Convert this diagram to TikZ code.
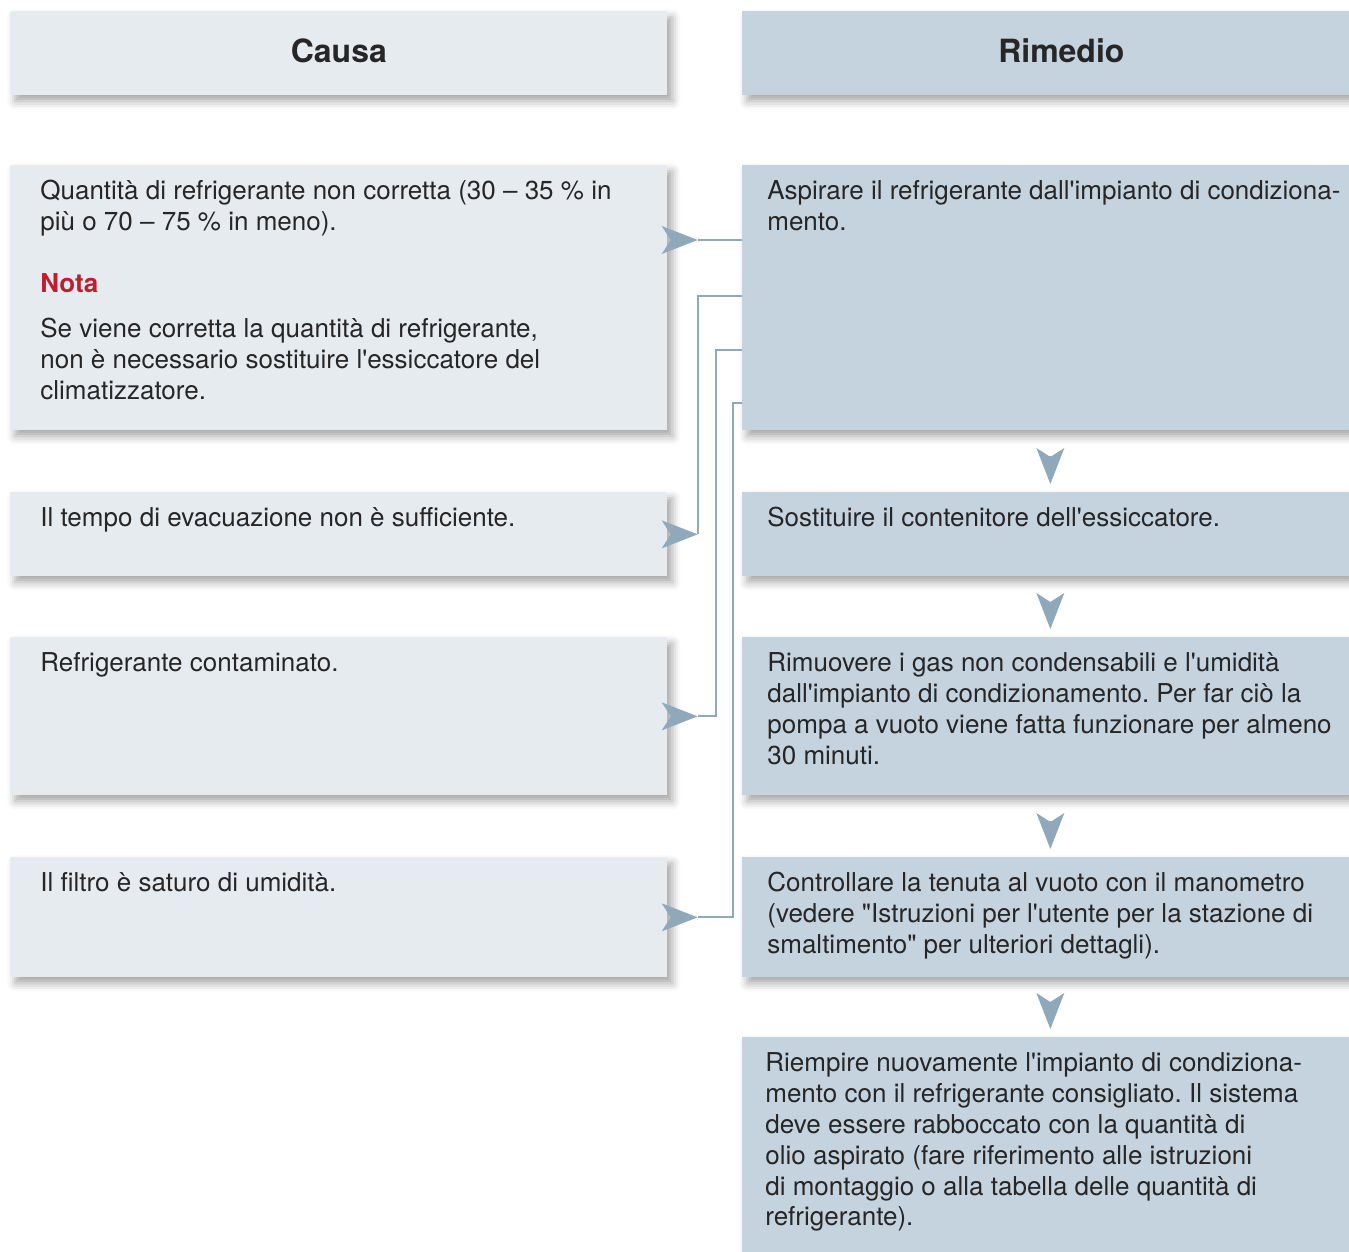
\documentclass[tikz,border=0pt]{standalone}
\usepackage{fontspec}
\setmainfont{TeX Gyre Heros}
\usetikzlibrary{arrows.meta, positioning, shadows.blur}
\definecolor{causefill}{RGB}{230,235,240}
\definecolor{remedyfill}{RGB}{197,211,223}
\definecolor{linkblue}{RGB}{143,168,186}
\definecolor{notared}{RGB}{190,30,45}
\definecolor{inkgray}{RGB}{38,38,38}
\newcommand\apo{\textquotesingle}
\newcommand\dq{\textquotedbl}
\frenchspacing

\begin{document}
\begin{tikzpicture}[font=\fontsize{14.8}{17.6}\selectfont, text=inkgray,
    panel/.style={rectangle, inner sep=0pt, anchor=north west, blur shadow={shadow xshift=0.1cm, shadow yshift=-0.12cm, shadow blur radius=0.16cm, shadow opacity=35}},
    cause/.style={panel, fill=causefill, minimum width=13.14cm},
    remedy/.style={panel, fill=remedyfill, minimum width=12.14cm},
    head/.style={font=\fontsize{18.2}{21}\selectfont\bfseries, text depth=0.1cm},
    boxtext/.style={anchor=north west, align=left, inner sep=0pt},
    link/.style={draw=linkblue, line width=0.04cm, -{Stealth[reversed, length=0.72cm, width=0.56cm, inset=0.18cm, line width=0pt]}},
    down/.style={draw=linkblue, line width=0.04cm, -{Stealth[length=0.72cm, width=0.56cm, inset=0.18cm, line width=0pt]}, shorten <=0.5cm, shorten >=0.16cm}]

\useasboundingbox (0,0) rectangle (26.98,-25.04);

% headings
\node[cause, minimum height=1.68cm, head] (causa) at (0.2,-0.22) {Causa};
\node[remedy, minimum width=12.76cm, minimum height=1.68cm, head] (rimedio) at (14.84,-0.22) {Rimedio};

% causes (left column)
\node[cause, minimum height=5.3cm] (c1) at (0.2,-3.3) {};
\node[cause, minimum height=1.68cm] (c2) at (0.2,-9.84) {};
\node[cause, minimum height=3.16cm] (c3) at (0.2,-12.74) {};
\node[cause, minimum height=2.4cm] (c4) at (0.2,-17.14) {};

% remedies (right column)
\node[remedy, minimum height=5.3cm] (r1) at (14.84,-3.3) {};
\node[remedy, minimum height=1.68cm] (r2) at (14.84,-9.84) {};
\node[remedy, minimum height=3.16cm] (r3) at (14.84,-12.74) {};
\node[remedy, minimum height=2.4cm] (r4) at (14.84,-17.14) {};
\node[remedy, minimum height=4.3cm] (r5) at (14.84,-20.74) {};

% texts
\node[boxtext] (c1t) at ([xshift=0.6cm, yshift=-0.3cm]c1.north west)
  {Quantità di refrigerante non corretta (30 – 35 \% in\\
   più o 70 – 75 \% in meno).\\[0.62cm]
   \textcolor{notared}{\bfseries Nota}\\[0.28cm]
   Se viene corretta la quantità di refrigerante,\\
   non è necessario sostituire l\apo essiccatore del\\
   climatizzatore.};
\node[boxtext] (c2t) at ([xshift=0.6cm, yshift=-0.3cm]c2.north west)
  {Il tempo di evacuazione non è sufficiente.};
\node[boxtext] (c3t) at ([xshift=0.6cm, yshift=-0.3cm]c3.north west)
  {Refrigerante contaminato.};
\node[boxtext] (c4t) at ([xshift=0.6cm, yshift=-0.3cm]c4.north west)
  {Il filtro è saturo di umidità.};

\node[boxtext] (r1t) at ([xshift=0.5cm, yshift=-0.3cm]r1.north west)
  {Aspirare il refrigerante dall\apo impianto di condiziona-\\
   mento.};
\node[boxtext] (r2t) at ([xshift=0.5cm, yshift=-0.3cm]r2.north west)
  {Sostituire il contenitore dell\apo essiccatore.};
\node[boxtext] (r3t) at ([xshift=0.5cm, yshift=-0.3cm]r3.north west)
  {Rimuovere i gas non condensabili e l\apo umidità\\
   dall\apo impianto di condizionamento. Per far ciò la\\
   pompa a vuoto viene fatta funzionare per almeno\\
   30 minuti.};
\node[boxtext] (r4t) at ([xshift=0.5cm, yshift=-0.3cm]r4.north west)
  {Controllare la tenuta al vuoto con il manometro\\
   (vedere \dq Istruzioni per l\apo utente per la stazione di\\
   smaltimento\dq{} per ulteriori dettagli).};
\node[boxtext] (r5t) at ([xshift=0.46cm, yshift=-0.3cm]r5.north west)
  {Riempire nuovamente l\apo impianto di condiziona-\\
   mento con il refrigerante consigliato. Il sistema\\
   deve essere rabboccato con la quantità di\\
   olio aspirato (fare riferimento alle istruzioni\\
   di montaggio o alla tabella delle quantità di\\
   refrigerante).};

% cause -> remedy links
\draw[link] ([yshift=-1.5cm]r1.north west) -- ([xshift=-0.12cm, yshift=-1.5cm]c1.north east);
\draw[link] ([yshift=-2.62cm]r1.north west) -| ([xshift=0.6cm]c2.east) -- ([xshift=-0.12cm]c2.east);
\draw[link] ([yshift=-3.7cm]r1.north west) -| ([xshift=0.96cm]c3.east) -- ([xshift=-0.12cm]c3.east);
\draw[link] ([yshift=-4.76cm]r1.north west) -| ([xshift=1.3cm]c4.east) -- ([xshift=-0.12cm]c4.east);

% remedy sequence
\draw[down] ([xshift=0.09cm]r1.south) -- ([xshift=0.09cm]r2.north);
\draw[down] ([xshift=0.09cm]r2.south) -- ([xshift=0.09cm]r3.north);
\draw[down] ([xshift=0.09cm]r3.south) -- ([xshift=0.09cm]r4.north);
\draw[down] ([xshift=0.09cm]r4.south) -- ([xshift=0.09cm]r5.north);
\end{tikzpicture}
\end{document}
